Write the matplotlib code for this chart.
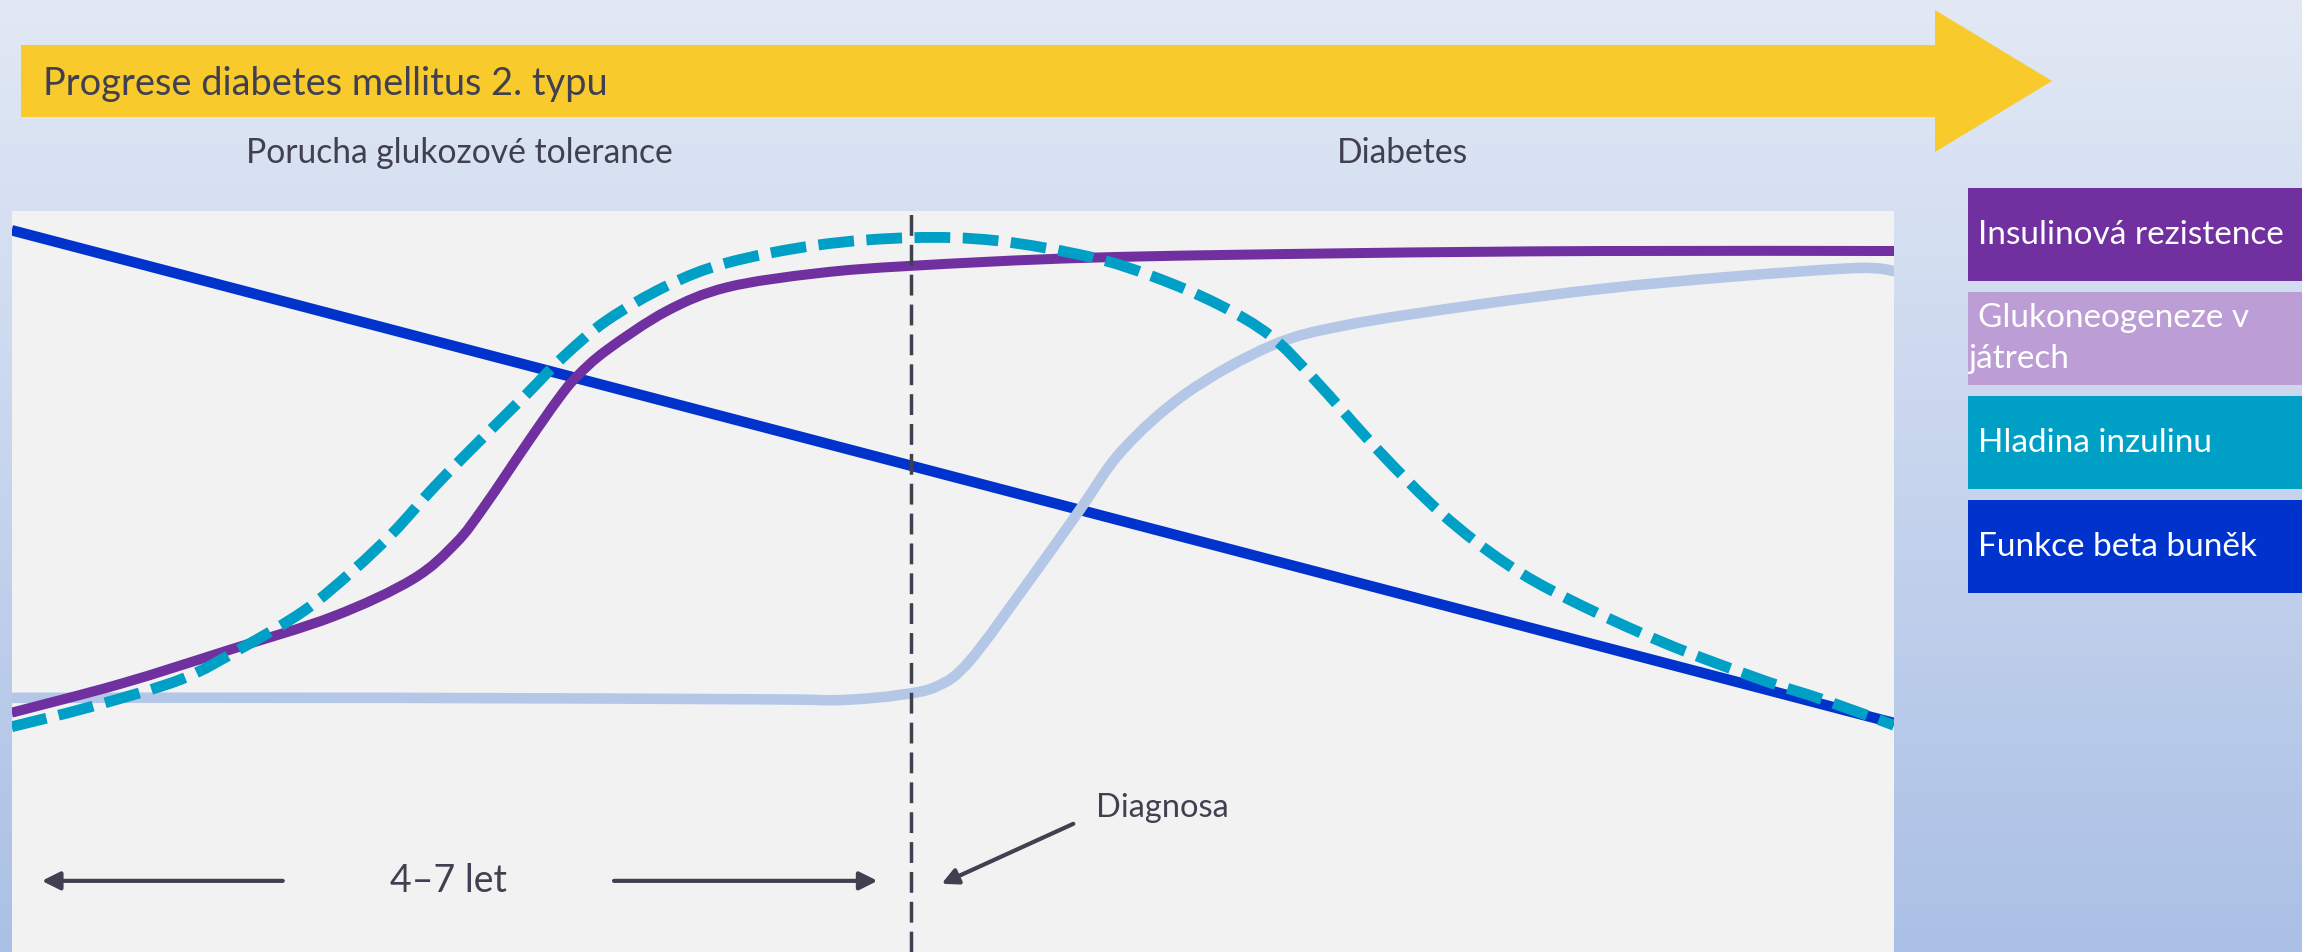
import numpy as np
import matplotlib
matplotlib.use("Agg")
import matplotlib.pyplot as plt
from matplotlib.path import Path
from matplotlib.patches import PathPatch, Polygon, Rectangle

plt.rcParams['font.family'] = ['Lato', 'DejaVu Sans']

# ---------------- data (relative level 0-100 over disease time 0-100) -------------
time_beta = [0, 100]
beta_function = [97.4, 30.9]

time_resistance = [0, 5.8, 11.6, 17.1, 21.3, 23.6, 25.1, 27.4, 29.0, 30.0, 31.6,
                   34.8, 38.0, 42.8, 47.8, 57.3, 70.9, 84.4, 100]
insulin_resistance = [32.3, 36.2, 40.8, 45.3, 50.3, 55.2, 60.1, 68.7, 74.5, 77.6, 81.2,
                      86.5, 89.7, 91.6, 92.6, 93.7, 94.3, 94.6, 94.6]

time_gluco = [0, 20, 40, 44, 47.2, 49.2, 50.9, 54.0, 56.7, 59.0, 62.4, 66.9, 70.9,
              77.7, 84.5, 91.2, 98.0, 100]
gluconeogenesis = [34.3, 34.3, 34.1, 34.0, 34.7, 35.9, 39.3, 49.9, 59.5, 67.7, 75.4,
                   81.8, 84.6, 87.3, 89.5, 91.1, 92.3, 91.9]

time_insulin = [0, 4.2, 9.0, 12.2, 15.5, 18.1, 20.3, 22.5, 25.1, 27.4, 29.3, 31.6,
                34.8, 38.0, 42.8, 47.8, 52.3, 57.3, 60.7, 64.1, 66.9, 69.2, 72.6,
                76.0, 79.4, 82.8, 87.8, 92.9, 96.3, 100]
insulin_level = [30.4, 33.1, 36.8, 41.0, 46.0, 51.4, 56.7, 62.9, 69.6, 75.4, 80.3, 85.2,
                 89.9, 93.0, 95.4, 96.4, 96.0, 93.8, 91.1, 87.4, 83.1, 77.3, 67.7,
                 59.1, 52.4, 47.5, 41.7, 36.8, 34.0, 30.6]

series_labels = ["Insulinová rezistence", "Glukoneogeneze v\njátrech",
                 "Hladina inzulinu", "Funkce beta buněk"]
legend_colors = ["#7030A0", "#BC9DD6", "#00A0C6", "#0033CC"]
line_colors = ["#7030A0", "#B4C7E7", "#00A0C6", "#0033CC"]

diagnosis_time = 47.8
period_label = "4–7 let"
period_arrows = [(14.4, 1.6), (32.0, 46.0)]   # (start, end) in time units
period_level = 9.6
diagnosis_label = "Diagnosa"
stage_labels = ["Porucha glukozové tolerance", "Diabetes"]
title = "Progrese diabetes mellitus 2. typu"

TEXT = "#404050"
W, H = 2302, 952

fig = plt.figure(figsize=(W / 100, H / 100), dpi=100)

# background layer in pixel units (y down)
bg = fig.add_axes([0, 0, 1, 1])
bg.set_xlim(0, W)
bg.set_ylim(H, 0)
bg.axis('off')
top = np.array([226, 233, 245]) / 255
bot = np.array([171, 192, 230]) / 255
t = np.linspace(0, 1, 256)[:, None]
grad = (top[None, :] * (1 - t) + bot[None, :] * t)[:, None, :]
bg.imshow(grad, extent=[0, W, H, 0], aspect='auto', zorder=0)

# progress banner arrow
banner = Polygon([(21, 45), (1935, 45), (1935, 10), (2052, 81), (1935, 152),
                  (1935, 117), (21, 117)], closed=True, facecolor="#F9CA2B",
                 edgecolor='none', zorder=1)
bg.add_patch(banner)
bg.text(43, 95, title, fontsize=27.4, color=TEXT, ha='left', va='baseline', zorder=2)

# stage captions
bg.text(459, 163, stage_labels[0], fontsize=24.2, color=TEXT, ha='center',
        va='baseline')
bg.text(1403, 163, stage_labels[1], fontsize=24.2, color=TEXT, ha='center',
        va='baseline')

# legend boxes
box_tops = [188, 292, 396, 500]
for lab, col, y0 in zip(series_labels, legend_colors, box_tops):
    bg.add_patch(Rectangle((1968, y0), W - 1968, 93, facecolor=col,
                           edgecolor='none', zorder=1))
    lines = lab.split("\n")
    if len(lines) == 1:
        bg.text(1978, y0 + 56, lines[0], fontsize=24, color='white',
                ha='left', va='baseline', zorder=2)
    else:
        bg.text(1978, y0 + 35, lines[0], fontsize=24, color='white',
                ha='left', va='baseline', zorder=2)
        bg.text(1968, y0 + 76, lines[1], fontsize=24, color='white',
                ha='left', va='baseline', zorder=2)

# main plot area
x0 = 11.7
ax = fig.add_axes([x0 / W, 0, (1894 - x0) / W, (H - 211) / H])
ax.set_xlim(0, 100)
ax.set_ylim(0, 100)
ax.set_facecolor("#F2F2F2")
ax.set_xticks([])
ax.set_yticks([])
for s in ax.spines.values():
    s.set_visible(False)


def smooth_path(xs, ys):
    """Catmull-Rom curve through the points, expressed as cubic Bezier segments."""
    P = np.column_stack([xs, ys]).astype(float)
    n = len(P)
    verts = [P[0]]
    codes = [Path.MOVETO]
    for i in range(n - 1):
        p0 = P[i - 1] if i > 0 else P[i]
        p1, p2 = P[i], P[i + 1]
        p3 = P[i + 2] if i + 2 < n else P[i + 1]
        verts += [p1 + (p2 - p0) / 6, p2 - (p3 - p1) / 6, p2]
        codes += [Path.CURVE4] * 3
    return Path(verts, codes)


ax.plot(time_beta, beta_function, color=line_colors[3], lw=7.6,
        solid_capstyle='butt', zorder=2)
ax.add_patch(PathPatch(smooth_path(time_gluco, gluconeogenesis), fill=False,
                       edgecolor=line_colors[1], lw=7.6, capstyle='round',
                       joinstyle='round', zorder=3))
ax.add_patch(PathPatch(smooth_path(time_resistance, insulin_resistance), fill=False,
                       edgecolor=line_colors[0], lw=7.2, capstyle='butt',
                       joinstyle='round', zorder=4))
ax.add_patch(PathPatch(smooth_path(time_insulin, insulin_level), fill=False,
                       edgecolor=line_colors[2], lw=7.8, capstyle='butt',
                       linestyle=(0, (3.3, 1.15)), zorder=5))

# diagnosis marker
ax.axvline(diagnosis_time, color=TEXT, lw=2.5, linestyle=(0, (6, 2.6)), zorder=6)

# duration arrows
for start, end in period_arrows:
    ax.annotate('', xy=(end, period_level), xytext=(start, period_level),
                arrowprops=dict(arrowstyle='-|>', lw=3, color=TEXT,
                                mutation_scale=27, shrinkA=0, shrinkB=0), zorder=7)
ax.text(23.2, period_level, period_label, fontsize=27, color=TEXT, ha='center',
        va='center', zorder=7)

ax.annotate('', xy=(49.4, 9.2), xytext=(56.4, 17.3),
            arrowprops=dict(arrowstyle='-|>', lw=3, color=TEXT,
                            mutation_scale=24, shrinkA=0, shrinkB=0), zorder=7)
ax.text(57.6, 18.2, diagnosis_label, fontsize=23.5, color=TEXT, ha='left',
        va='baseline', zorder=7)

fig.savefig("out.png", dpi=100)
